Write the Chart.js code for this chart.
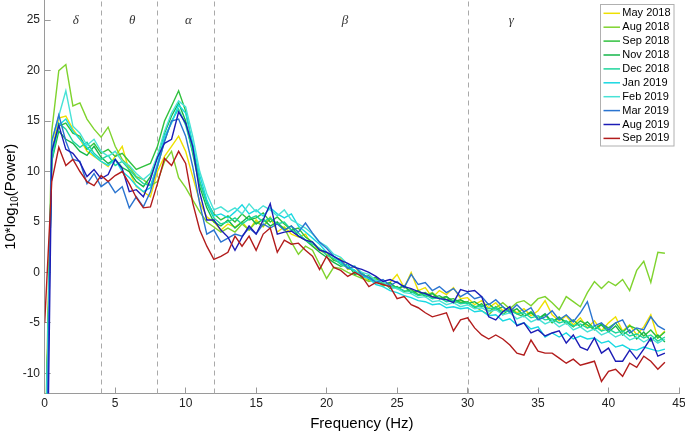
<!DOCTYPE html>
<html>
<head>
<meta charset="utf-8">
<script src="https://cdn.jsdelivr.net/npm/chart.js@4.4.0/dist/chart.umd.min.js"></script>
<style>
html, body { margin: 0; padding: 0; background: #fff; }
</style>
</head>
<body>
<canvas id="psd" width="685" height="434"></canvas>
<script>
// frequency bins (Hz)
const freq = [0, 0.5, 1, 1.5, 2, 2.5, 3, 3.5, 4, 4.5,
  5, 5.5, 6, 6.5, 7, 7.5, 8, 8.5, 9, 9.5,
  10, 10.5, 11, 11.5, 12, 12.5, 13, 13.5, 14, 14.5,
  15, 15.5, 16, 16.5, 17, 17.5, 18, 18.5, 19, 19.5,
  20, 20.5, 21, 21.5, 22, 22.5, 23, 23.5, 24, 24.5,
  25, 25.5, 26, 26.5, 27, 27.5, 28, 28.5, 29, 29.5,
  30, 30.5, 31, 31.5, 32, 32.5, 33, 33.5, 34, 34.5,
  35, 35.5, 36, 36.5, 37, 37.5, 38, 38.5, 39, 39.5,
  40, 40.5, 41, 41.5, 42, 42.5, 43, 43.5, 44]

// 10*log10(power)
const may2018 = [-22, 12, 15.3, 15.5, 14.2, 13.2, 12.0, 11.5, 11.0, 10.5,
  11.5, 12.5, 10.0, 8.5, 8.0, 7.5, 10.0, 11.5, 12.5, 13.5,
  12.0, 9.5, 7.0, 5.5, 5.0, 4.2, 4.8, 4.5, 5.0, 4.2,
  5.2, 4.5, 5.5, 4.0, 4.5, 3.8, 3.5, 3.8, 2.6, 2.2,
  1.8, 1.2, 1.4, 0.3, 0.6, -0.4, -0.8, -0.5, -1.4, -1.0,
  -0.2, -1.5, 0.0, -1.8, -1.5, -2.5, -1.8, -2.2, -1.5, -2.6,
  -2.5, -3.2, -2.8, -3.5, -3.0, -3.8, -3.4, -4.0, -3.6, -4.3,
  -3.8, -2.8, -4.2, -4.8, -4.3, -5.2, -4.5, -5.5, -4.8, -5.8,
  -5.0, -4.4, -5.8, -5.2, -6.2, -5.4, -4.2, -6.5, -5.8]
const aug2018 = [-20, 14, 20.0, 20.6, 16.5, 16.8, 15.2, 14.2, 13.4, 14.4,
  12.5, 11.2, 10.5, 9.5, 9.2, 8.6, 9.0, 11.0, 12.0, 9.4,
  8.4, 7.2, 6.0, 5.0, 4.5, 4.0, 4.4, 4.0, 4.8, 4.2,
  5.0, 4.6, 5.3, 4.8, 4.4, 3.0, 1.8, 2.6, 2.2, 0.8,
  -0.6, 0.5, 0.4, 0.0, -0.3, -0.6, -0.9, -0.7, -1.3, -1.1,
  -1.6, -1.4, -2.0, -1.9, -2.3, -2.0, -2.6, -2.4, -3.0, -2.8,
  -3.0, -3.4, -3.8, -4.2, -3.5, -3.0, -3.6, -3.0, -2.8, -3.3,
  -2.6, -2.4, -3.0, -3.7, -2.4, -2.9, -3.4, -2.0, -0.9, -1.6,
  -0.9, -1.3, -0.7, -1.8, 0.2, 1.1, -1.0, 2.0, 1.9]
const sep2018 = [-22, 12, 14.5, 14.8, 13.8, 13.5, 12.2, 12.8, 11.8, 12.2,
  11.5, 11.8, 11.0, 10.2, 10.5, 10.8, 12.5, 15.0, 16.5, 18.0,
  16.0, 12.5, 9.0, 7.0, 5.8, 5.2, 5.6, 5.0, 5.8, 5.2,
  5.4, 5.9, 5.0, 5.5, 4.8, 4.2, 4.4, 3.5, 3.0, 2.3,
  2.0, 1.2, 1.0, 0.4, 0.2, -0.5, -0.3, -1.0, -0.9, -1.6,
  -1.4, -1.9, -1.7, -2.2, -2.0, -2.5, -2.3, -2.7, -2.6, -3.0,
  -2.9, -3.5, -3.1, -3.9, -3.4, -4.2, -3.6, -4.1, -4.4, -3.9,
  -4.6, -4.2, -5.0, -4.5, -4.9, -5.4, -4.8, -5.2, -5.7, -5.1,
  -5.5, -5.0, -5.9, -5.3, -5.6, -6.3, -5.7, -6.5, -5.9]
const nov2018 = [-22, 11, 14.0, 13.2, 12.8, 12.0, 11.6, 12.5, 11.4, 10.8,
  11.2, 10.4, 10.0, 9.0, 8.5, 9.5, 11.5, 13.8, 15.5, 16.8,
  15.0, 11.8, 8.5, 6.4, 5.0, 4.6, 5.2, 4.4, 5.0, 5.6,
  4.8, 5.3, 4.6, 5.0, 4.2, 4.6, 3.6, 3.2, 2.6, 2.0,
  1.5, 1.0, 0.6, 0.8, -0.2, 0.0, -0.7, -0.5, -1.2, -1.0,
  -1.6, -1.3, -2.0, -1.8, -2.4, -2.1, -2.6, -2.4, -2.9, -2.7,
  -3.1, -2.9, -3.4, -3.1, -3.7, -3.4, -4.0, -3.6, -4.3, -4.0,
  -4.6, -4.1, -4.9, -4.4, -5.1, -4.7, -5.4, -4.9, -5.6, -5.2,
  -5.9, -5.3, -6.2, -5.7, -6.6, -5.9, -6.8, -6.2, -6.9]
const dec2018 = [-22, 11, 14.8, 14.2, 13.0, 12.4, 12.9, 11.8, 11.2, 11.6,
  10.6, 11.0, 10.2, 9.4, 8.8, 8.6, 10.5, 13.0, 15.0, 16.2,
  14.6, 12.0, 9.0, 6.8, 5.4, 4.8, 5.0, 5.4, 4.8, 5.3,
  5.6, 5.0, 5.4, 4.8, 5.0, 4.2, 3.9, 3.2, 2.8, 2.4,
  1.7, 1.4, 0.8, 0.5, 0.1, -0.2, -0.6, -0.8, -1.1, -1.4,
  -1.5, -1.8, -1.9, -2.3, -2.2, -2.6, -2.5, -2.9, -2.8, -3.1,
  -3.0, -3.4, -3.3, -3.6, -3.5, -3.9, -3.8, -4.1, -4.0, -4.5,
  -4.3, -4.7, -4.6, -5.0, -4.8, -5.3, -5.1, -5.5, -5.3, -5.8,
  -5.6, -6.0, -5.8, -6.3, -6.1, -6.5, -6.2, -6.8, -6.4]
const jan2019 = [-24, 12, 14.6, 15.2, 14.0, 13.2, 12.4, 11.6, 11.0, 10.6,
  11.2, 10.0, 9.4, 8.6, 8.0, 8.4, 10.8, 13.5, 14.8, 16.6,
  15.8, 12.8, 9.6, 7.2, 5.6, 5.8, 5.4, 6.0, 6.7, 5.8,
  6.2, 5.6, 6.4, 5.8, 5.4, 5.8, 4.6, 4.0, 3.4, 2.8,
  2.0, 1.6, 1.0, 0.6, 0.2, -0.4, -0.6, -1.2, -1.4, -1.8,
  -2.0, -2.3, -2.5, -2.8, -2.9, -3.2, -3.1, -3.5, -3.4, -3.6,
  -3.5, -3.9, -3.8, -4.3, -4.2, -4.8, -4.6, -5.2, -5.0, -5.6,
  -5.4, -6.4, -6.0, -6.4, -6.0, -6.6, -6.3, -6.6, -6.5, -7.0,
  -6.8, -7.4, -7.2, -7.6, -7.7, -7.4, -7.6, -7.8, -7.6]
const feb2019 = [-24, 13, 15.5, 18.0, 14.5, 13.8, 12.6, 13.2, 12.0, 11.5,
  12.0, 11.0, 10.6, 9.8, 9.2, 9.8, 11.6, 14.0, 15.8, 17.0,
  16.4, 13.5, 10.0, 7.8, 6.2, 6.5, 6.0, 6.4, 5.8, 6.8,
  6.0, 6.6, 6.2, 5.6, 6.2, 5.2, 4.8, 4.4, 3.8, 3.0,
  2.6, 1.8, 1.5, 0.8, 0.6, 0.0, -0.2, -0.8, -0.9, -1.5,
  -1.6, -2.0, -2.1, -2.5, -2.4, -2.9, -2.8, -3.2, -3.0, -3.4,
  -3.2, -3.6, -3.5, -3.9, -3.7, -4.2, -4.0, -4.6, -4.3, -4.9,
  -4.6, -5.1, -4.8, -5.4, -5.0, -5.7, -5.4, -5.9, -5.6, -6.2,
  -5.9, -6.4, -6.1, -6.7, -6.4, -6.9, -6.5, -7.0, -6.6]
const mar2019 = [-30, 13, 15.6, 13.0, 11.2, 11.0, 8.8, 9.8, 8.5, 9.0,
  7.9, 8.5, 6.4, 7.5, 6.5, 8.0, 10.5, 13.0, 15.0, 15.2,
  13.5, 10.5, 6.8, 3.8, 4.2, 3.0, 3.4, 3.8, 3.6, 4.4,
  3.8, 4.8, 4.4, 4.8, 4.2, 4.6, 4.0, 4.9, 3.9, 3.0,
  2.4, 1.6, 1.2, 0.4, 0.6, -0.2, -0.5, -1.0, -0.7, -1.3,
  -0.9, -1.5, -0.2, -1.2, -1.0, -1.8, -1.4, -2.0, -1.6, -2.4,
  -2.0, -2.6, -2.4, -3.2, -2.7, -3.4, -3.9, -3.2, -3.9, -3.5,
  -4.7, -4.4, -3.8, -4.7, -4.2, -4.9, -4.0, -2.9, -5.3, -5.0,
  -5.7, -5.0, -4.7, -6.0, -5.5, -5.7, -4.4, -5.3, -5.7]
const aug2019 = [-40, 12, 14.6, 12.2, 11.8, 10.9, 9.5, 10.2, 9.3, 9.7,
  11.2, 10.3, 8.0, 8.2, 7.5, 9.2, 11.4, 12.8, 13.2, 15.9,
  14.8, 12.5, 7.9, 5.2, 5.2, 4.2, 3.5, 2.2, 3.5, 4.6,
  3.8, 5.2, 6.8, 3.8, 4.0, 4.1, 3.6, 3.2, 3.0, 2.2,
  2.0, 1.6, 1.2, 0.9, 0.5, 0.3, 0.0, -0.4, -0.9, -0.7,
  -1.0, -1.4, -1.6, -1.9, -2.1, -2.4, -2.6, -2.7, -3.0, -1.7,
  -1.9, -1.8, -2.4, -4.4, -4.7, -3.9, -3.4, -5.3, -5.0, -6.0,
  -5.7, -6.3, -6.0, -5.8, -7.0, -6.2, -7.4, -7.7, -6.5, -8.0,
  -7.5, -8.8, -8.8, -7.7, -8.6, -7.6, -6.5, -8.3, -8.0]
const sep2019 = [-5, 9, 12.4, 10.6, 11.2, 10.0, 9.0, 8.6, 9.6, 9.0,
  9.6, 10.0, 8.8, 7.4, 6.4, 6.5, 8.8, 11.3, 10.6, 12.0,
  10.8, 6.9, 4.2, 2.6, 1.3, 1.6, 2.0, 3.6, 2.6, 3.6,
  2.2, 3.8, 4.4, 2.0, 3.2, 2.8, 2.9, 2.2, 1.6, 0.3,
  1.6, 0.5, 0.2, -0.4, 0.0, -0.4, -1.4, -1.0, -1.2, -1.4,
  -2.6, -2.4, -3.2, -3.5, -4.0, -4.4, -4.2, -4.0, -5.8, -4.7,
  -4.5, -5.5, -6.2, -6.6, -6.2, -6.6, -7.2, -8.0, -8.2, -6.7,
  -7.8, -8.0, -8.0, -8.5, -9.0, -8.6, -9.2, -9.0, -8.8, -10.8,
  -9.8, -9.6, -10.3, -9.0, -9.4, -8.3, -8.8, -9.6, -8.9]

const seriesLabels = ['May 2018', 'Aug 2018', 'Sep 2018', 'Nov 2018', 'Dec 2018',
  'Jan 2019', 'Feb 2019', 'Mar 2019', 'Aug 2019', 'Sep 2019']
const seriesValues = [may2018, aug2018, sep2018, nov2018, dec2018,
  jan2019, feb2019, mar2019, aug2019, sep2019]
const seriesColors = ['#eee000', '#7fd32e', '#30c13e', '#14b64a', '#1ed59c',
  '#18d8e2', '#48e2d6', '#2a74d0', '#1c1cb6', '#b21c1c']

const yTicks = [-10, -5, 0, 5, 10, 15, 20, 25]
const bandEdges = [4, 8, 12, 30]
const bandNames = ['δ', 'θ', 'α', 'β', 'γ']
const bandLabelAt = [2.2, 6.2, 10.2, 21.3, 33.1]

const font = '"Liberation Sans", Arial, Helvetica, sans-serif'

const bands = {
    id: 'bands',
    beforeDatasetsDraw(chart) {
        const {ctx, chartArea, scales: {x, y}} = chart
        ctx.save()
        ctx.strokeStyle = '#a9a9a9'
        ctx.lineWidth = 1
        ctx.setLineDash([5, 4])
        bandEdges.forEach(f => {
            const px = Math.round(x.getPixelForValue(f)) + 0.5
            ctx.beginPath()
            ctx.moveTo(px, chartArea.bottom)
            ctx.lineTo(px, chartArea.top)
            ctx.stroke()
        })
        ctx.setLineDash([])
        ctx.font = 'italic 13px "Liberation Serif", "DejaVu Serif", serif'
        ctx.fillStyle = '#333'
        ctx.textAlign = 'center'
        ctx.textBaseline = 'middle'
        bandNames.forEach((n, i) => {
            ctx.fillText(n, x.getPixelForValue(bandLabelAt[i]), y.getPixelForValue(25))
        })
        ctx.restore()
    }
}

const extras = {
    id: 'extras',
    afterDraw(chart) {
        const {ctx, chartArea} = chart
        ctx.save()

        // legend box
        ctx.fillStyle = '#fff'
        ctx.fillRect(600.5, 4.5, 73.5, 141.5)
        ctx.strokeStyle = '#b0b0b0'
        ctx.lineWidth = 1
        ctx.strokeRect(600.5, 4.5, 73.5, 141.5)
        ctx.font = '11px ' + font
        ctx.textAlign = 'left'
        ctx.textBaseline = 'middle'
        seriesLabels.forEach((lab, i) => {
            const ly = 13.3 + i * 13.9
            ctx.strokeStyle = seriesColors[i]
            ctx.lineWidth = 1.5
            ctx.beginPath()
            ctx.moveTo(603.5, ly)
            ctx.lineTo(620, ly)
            ctx.stroke()
            ctx.fillStyle = '#000'
            ctx.fillText(lab, 622.3, ly)
        })

        // y axis title with subscript
        const cy = (chartArea.top + chartArea.bottom) / 2
        ctx.translate(11, cy)
        ctx.rotate(-Math.PI / 2)
        ctx.fillStyle = '#000'
        ctx.textBaseline = 'middle'
        const big = '15px ' + font
        const small = '10px ' + font
        ctx.font = big
        const w1 = ctx.measureText('10*log').width
        const w3 = ctx.measureText('(Power)').width
        ctx.font = small
        const w2 = ctx.measureText('10').width
        let tx = -(w1 + w2 + w3) / 2
        ctx.font = big
        ctx.fillText('10*log', tx, 0)
        tx += w1
        ctx.font = small
        ctx.fillText('10', tx, 4)
        tx += w2
        ctx.font = big
        ctx.fillText('(Power)', tx, 0)
        ctx.restore()
    }
}

const ctx1 = document.getElementById('psd')

new Chart(ctx1, {
    type: 'line',
    data: {
        datasets: seriesLabels.map((label, i) => ({
            label: label,
            data: freq.map((f, k) => ({x: f, y: seriesValues[i][k]})),
            borderColor: seriesColors[i],
            borderWidth: 1.4,
            pointRadius: 0,
            tension: 0,
            fill: false,
            order: -i,
        }))
    },
    options: {
        responsive: false,
        animation: false,
        devicePixelRatio: 1,
        layout: {
            autoPadding: false,
            padding: {left: 0, right: 6, top: 0, bottom: 0}
        },
        scales: {
            x: {
                type: 'linear',
                min: 0,
                max: 45,
                grid: {
                    display: true,
                    drawOnChartArea: false,
                    drawTicks: true,
                    tickLength: -6,
                    tickColor: '#9a9a9a',
                },
                border: {color: '#9a9a9a', width: 1},
                ticks: {
                    stepSize: 5,
                    padding: 9,
                    color: '#222',
                    maxRotation: 0,
                    font: {size: 12, family: font},
                },
                title: {
                    display: true,
                    text: 'Frequency (Hz)',
                    color: '#000',
                    padding: {top: 0, bottom: 1},
                    font: {size: 15, family: font},
                },
                afterFit: scale => {
                    scale.height = 40.5
                    scale.paddingLeft = 0
                    scale.paddingRight = 0
                },
            },
            y: {
                type: 'linear',
                min: -12,
                max: 27,
                afterBuildTicks: scale => {
                    scale.ticks = yTicks.map(v => ({value: v}))
                },
                grid: {
                    display: true,
                    drawOnChartArea: false,
                    drawTicks: true,
                    tickLength: -6,
                    tickColor: '#9a9a9a',
                },
                border: {color: '#9a9a9a', width: 1},
                ticks: {
                    padding: 10.7,
                    color: '#222',
                    font: {size: 12, family: font},
                },
                afterFit: scale => {
                    scale.width = 44.7
                    scale.paddingTop = 0
                    scale.paddingBottom = 0
                },
            },
        },
        plugins: {
            legend: {display: false},
            tooltip: {enabled: false},
        },
    },
    plugins: [bands, extras],
})
</script>
</body>
</html>
